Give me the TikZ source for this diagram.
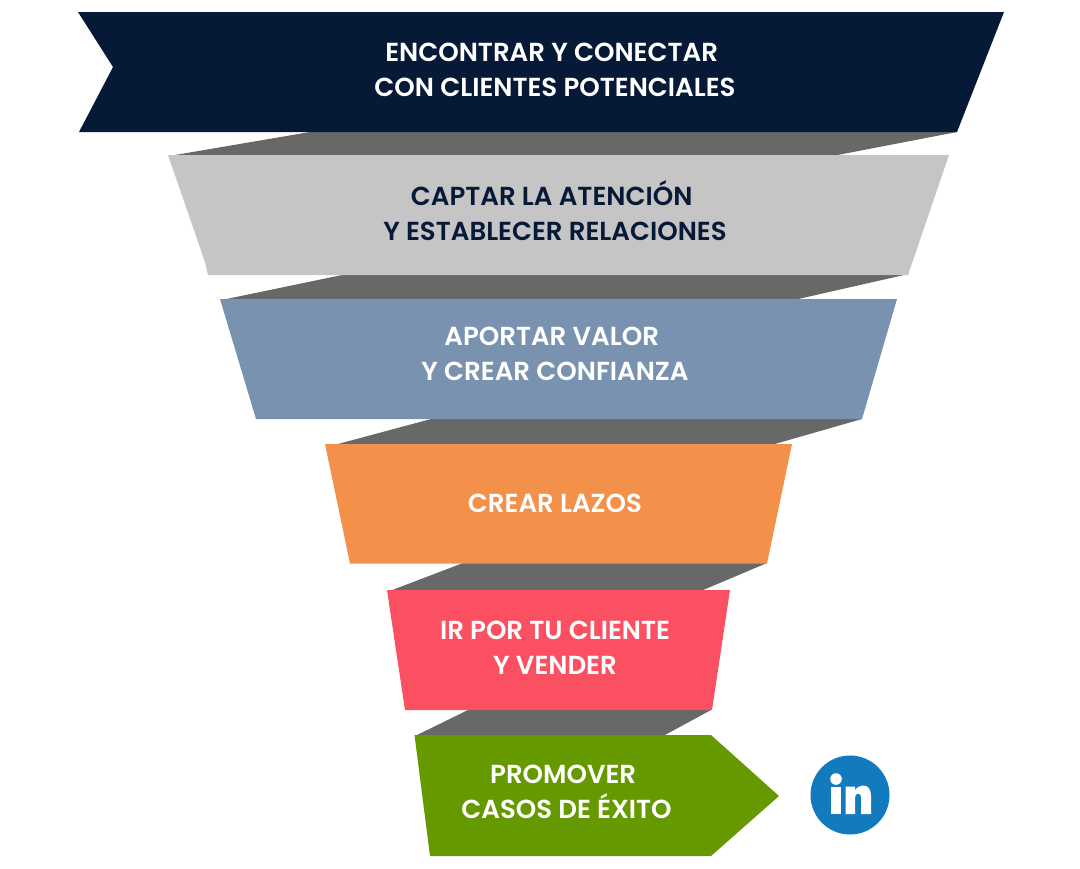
\documentclass[tikz,border=0pt]{standalone}
\usepackage{fontspec}
\setmainfont{Poppins}[BoldFont={* SemiBold}]
\definecolor{navy}{HTML}{061A38}
\definecolor{shade}{HTML}{686868}
\definecolor{lightgray}{HTML}{C5C5C5}
\definecolor{steel}{HTML}{7992B0}
\definecolor{tangerine}{HTML}{F3914B}
\definecolor{coral}{HTML}{FB5061}
\definecolor{leaf}{HTML}{669900}
\definecolor{linkedin}{HTML}{127BBD}
\tikzset{
    label/.style={align=center, text=white, font=\fontsize{19.55}{26.25}\selectfont\bfseries},
    band/.style={fill=shade}
}

\begin{document}
\begin{tikzpicture}[x=0.75pt, y=-0.75pt]
    \useasboundingbox (0, 0) rectangle (1080, 868);

    % bands
    \fill[band] (310, 132) -- (957, 132) -- (835, 155.5) -- (172, 155.5) -- cycle;
    \fill[band] (342, 275) -- (904, 275) -- (796, 299.5) -- (224, 299.5) -- cycle;
    \fill[band] (431, 419) -- (862, 419) -- (773, 444.5) -- (336, 444.5) -- cycle;
    \fill[band] (463, 563) -- (767, 563) -- (702, 590.5) -- (391, 590.5) -- cycle;
    \fill[band] (468, 710) -- (711, 710) -- (664, 735.5) -- (416, 735.5) -- cycle;

    % funnel
    \fill[navy] (78, 12) -- (1004, 12) -- (957, 132) -- (79, 132) -- (113, 67) -- cycle;
    \fill[lightgray] (168, 155) -- (949, 155) -- (908, 275) -- (208, 275) -- (205, 262) -- cycle;
    \fill[steel] (220, 299) -- (897, 299) -- (862, 419) -- (256, 419) -- cycle;
    \fill[tangerine] (325, 444) -- (792, 444) -- (767, 563.5) -- (350, 563.5) -- cycle;
    \fill[coral] (387, 590) -- (730, 590) -- (712, 710) -- (405, 710) -- cycle;
    \fill[leaf] (414.5, 735) -- (711, 735) -- (779, 796) -- (711, 856) -- (430, 856) -- cycle;

    % labels
    \node[label] (find) at (555, 70.3) {ENCONTRAR Y CONECTAR\hspace*{5pt}\\CON CLIENTES POTENCIALES};
    \node[label, text=navy] (catch) at (555, 210.6) {CAPTAR LA ATENCI\'ON\hspace*{5pt}\\Y ESTABLECER RELACIONES};
    \node[label] (value) at (555, 353.5) {APORTAR VALOR\hspace*{5pt}\\Y CREAR CONFIANZA};
    \node[label] (ties) at (555, 503.7) {CREAR LAZOS};
    \node[label] (sell) at (555, 647.6) {IR POR TU CLIENTE\\Y VENDER};
    \node[label] (promote) at (566.5, 792.2) {PROMOVER\hspace*{5pt}\\CASOS DE \'EXITO};

    % logo
    \fill[linkedin] (850, 795) circle (39.5);
    \fill[white] (836, 779) circle (5.8);
    \fill[white] (831, 786.5) rectangle (841, 814);
    \fill[white] (845.5, 786.5) -- (855, 786.5) -- (855, 790.5)
        .. controls (857, 787) and (860, 785.5) .. (863, 785.5)
        .. controls (868.5, 785.5) and (871, 789.5) .. (871, 796.5)
        -- (871, 814) -- (861, 814) -- (861, 798.5)
        .. controls (861, 795) and (860, 793.5) .. (858, 793.5)
        .. controls (856, 793.5) and (855, 795.5) .. (855, 798.5)
        -- (855, 814) -- (845.5, 814) -- cycle;
\end{tikzpicture}
\end{document}
